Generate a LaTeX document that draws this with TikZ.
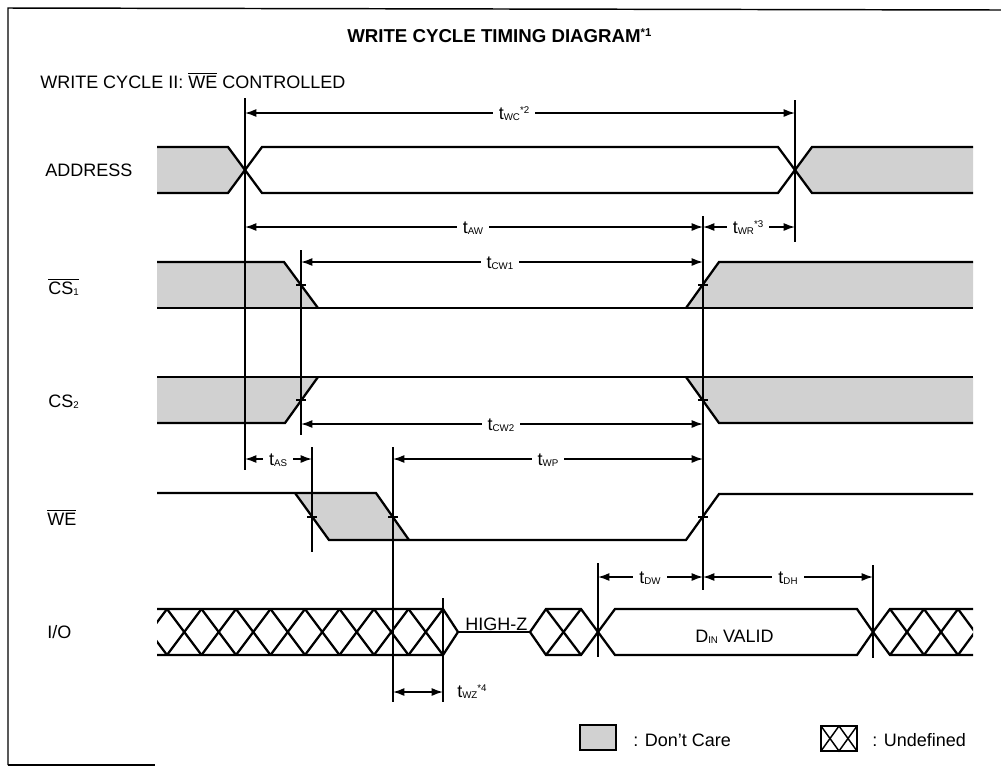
\documentclass[tikz,border=0pt]{standalone}
\usepackage{fontspec}
\setmainfont{Liberation Sans}
\usetikzlibrary{arrows.meta}
\newcommand{\tsb}[1]{\raisebox{-1.3pt}{\fontsize{7.3}{8}\selectfont #1}}
\newcommand{\tsp}[1]{\raisebox{4.5pt}{\fontsize{7.3}{8}\selectfont #1}}
\newcommand{\ovl}[1]{\leavevmode\vbox{\hrule height 0.6pt\kern 1.5pt\hbox{#1}}}
\begin{document}
\begin{tikzpicture}[x=0.75pt,y=-0.75pt,
 sig/.style={line width=1.7pt, line join=miter},
 thinl/.style={line width=1.1pt},
 dimarr/.style={line width=1.1pt, {Latex[length=8.5pt,width=6pt]}-{Latex[length=8.5pt,width=6pt]}},
 dc/.style={fill=black!18},
 lbl/.style={font=\fontsize{13.5}{16}\selectfont, inner sep=0pt, anchor=base west},
 dl/.style={font=\fontsize{13.5}{16}\selectfont, fill=white, inner xsep=4.5pt, inner ysep=1pt, anchor=base},
]
\useasboundingbox (0,0) rectangle (1001,769);
% frame
\draw[thinl] (8,765) -- (8,8) -- (1001,10);
\draw[thinl] (8,765) -- (155,765);

% titles
\node[lbl, font=\fontsize{14}{16}\selectfont\bfseries] (title) at (347,42) {WRITE CYCLE TIMING DIAGRAM\raisebox{4.5pt}{\fontsize{8.5}{9}\selectfont\bfseries *1}};
\node[lbl] (sub) at (40,88) {WRITE CYCLE II: \ovl{WE} CONTROLLED};

% signal names
\node[lbl] (address) at (45,176) {ADDRESS};
\node[lbl] (cs1) at (48,294) {\ovl{CS\tsb{1}}};
\node[lbl] (cs2) at (48,407) {CS\tsb{2}};
\node[lbl] (we) at (47,525) {\ovl{WE}};
\node[lbl] (io) at (47,638) {I/O};

% ADDRESS
\fill[dc] (157,147) -- (228,147) -- (245,170) -- (228,193) -- (157,193) -- cycle;
\fill[dc] (795,170) -- (812,147) -- (973,147) -- (973,193) -- (812,193) -- cycle;
\draw[sig] (157,147) -- (228,147) -- (262,193) -- (778,193) -- (812,147) -- (973,147);
\draw[sig] (157,193) -- (228,193) -- (262,147) -- (778,147) -- (812,193) -- (973,193);

% CS1
\fill[dc] (157,262) -- (284,262) -- (318,308) -- (157,308) -- cycle;
\fill[dc] (686,308) -- (719,262) -- (973,262) -- (973,308) -- cycle;
\draw[sig] (157,262) -- (284,262) -- (318,308);
\draw[sig] (157,308) -- (973,308);
\draw[sig] (686,308) -- (719,262) -- (973,262);

% CS2
\fill[dc] (157,377) -- (318,377) -- (285,423) -- (157,423) -- cycle;
\fill[dc] (686,377) -- (973,377) -- (973,423) -- (719,423) -- cycle;
\draw[sig] (157,377) -- (973,377);
\draw[sig] (157,423) -- (285,423) -- (318,377);
\draw[sig] (686,377) -- (719,423) -- (973,423);

% WE
\fill[dc] (295,493) -- (376,493) -- (409,540) -- (329,540) -- cycle;
\draw[sig] (157,493) -- (376,493) -- (409,540);
\draw[sig] (295,493) -- (329,540) -- (686,540) -- (719,494) -- (973,494);

% I/O
\begin{scope}
\clip (157,600) rectangle (443,664);
\foreach \i in {-1,...,7} {
  \pgfmathsetmacro\xa{167+34.5*\i}
  \pgfmathsetmacro\xb{\xa+34.5}
  \draw[sig] (\xa,609) -- (\xb,655);
  \draw[sig] (\xa,655) -- (\xb,609);
}
\end{scope}
\draw[sig] (157,609) -- (443,609) -- (458,632) -- (443,655) -- (157,655);
\draw[sig] (458,632) -- (530,632);
\draw[sig] (530,632) -- (546,609) -- (581,609) -- (598,632) -- (581,655) -- (546,655) -- cycle;
\draw[sig] (546,609) -- (581,655);
\draw[sig] (546,655) -- (581,609);
\draw[sig] (598,632) -- (615,609) -- (857,609) -- (873,632) -- (857,655) -- (615,655) -- cycle;
\draw[sig] (973,609) -- (890,609) -- (873,632) -- (890,655) -- (973,655);
\begin{scope}
\clip (885,600) rectangle (973,664);
\foreach \xa in {890,924,958} {
  \pgfmathsetmacro\xb{\xa+34}
  \draw[sig] (\xa,609) -- (\xb,655);
  \draw[sig] (\xa,655) -- (\xb,609);
}
\end{scope}
\node[lbl] (highz) at (465,630) {HIGH-Z};
\node[lbl] (din) at (695,642) {D\tsb{IN} VALID};

% reference verticals
\coordinate (a1) at (245,98);  \coordinate (a2) at (245,470);
\coordinate (b1) at (795,100); \coordinate (b2) at (795,242);
\coordinate (c1) at (703,216); \coordinate (c2) at (703,590);
\coordinate (d1) at (301,250); \coordinate (d2) at (301,435);
\coordinate (e1) at (312,447); \coordinate (e2) at (312,552);
\coordinate (f1) at (393,447); \coordinate (f2) at (393,702);
\coordinate (g1) at (443,598); \coordinate (g2) at (443,702);
\coordinate (h1) at (598,563); \coordinate (h2) at (598,657);
\coordinate (k1) at (873,565); \coordinate (k2) at (873,658);
\foreach \p in {a,b,c,d,e,f,g,h,k} \draw[thinl] (\p1) -- (\p2);

% crossing ticks
\foreach \x/\y in {301/285, 703/285, 301/400, 703/400, 312/517, 393/517, 703/517}
  \draw[thinl] (\x-5,\y) -- (\x+5,\y);

% dimension arrows
\draw[dimarr] (a1 |- 0,113) -- (b1 |- 0,113);
\node[dl] (lwc) at (514,119) {t\tsb{WC}\tsp{*2}};
\draw[dimarr] (a1 |- 0,227) -- (c1 |- 0,227);
\node[dl] (law) at (473,233) {t\tsb{AW}};
\draw[dimarr] (c1 |- 0,227) -- (b1 |- 0,227);
\node[dl] (lwr) at (748,233) {t\tsb{WR}\tsp{*3}};
\draw[dimarr] (d1 |- 0,262) -- (c1 |- 0,262);
\node[dl] (lcw1) at (500,268) {t\tsb{CW1}};
\draw[dimarr] (d1 |- 0,424) -- (c1 |- 0,424);
\node[dl] (lcw2) at (501,430) {t\tsb{CW2}};
\draw[dimarr] (a1 |- 0,459) -- (e1 |- 0,459);
\node[dl] (las) at (278,465) {t\tsb{AS}};
\draw[dimarr] (f1 |- 0,459) -- (c1 |- 0,459);
\node[dl] (lwp) at (548,465) {t\tsb{WP}};
\draw[dimarr] (h1 |- 0,577) -- (c1 |- 0,577);
\node[dl] (ldw) at (650,583) {t\tsb{DW}};
\draw[dimarr] (c1 |- 0,577) -- (k1 |- 0,577);
\node[dl] (ldh) at (788,583) {t\tsb{DH}};
\draw[dimarr] (f1 |- 0,692) -- (g1 |- 0,692);
\node[lbl] (lwz) at (457,697) {t\tsb{WZ}\tsp{*4}};

% legend
\draw[thinl, dc] (580,725) rectangle (616,750);
\node[lbl] (ldc) at (633,746) {: Don't Care};
\draw[sig] (821,726) rectangle (857,751);
\draw[thinl] (821,726) -- (839,751) -- (857,726);
\draw[thinl] (821,751) -- (839,726) -- (857,751);
\node[lbl] (lud) at (872,746) {: Undefined};
\end{tikzpicture}
\end{document}
